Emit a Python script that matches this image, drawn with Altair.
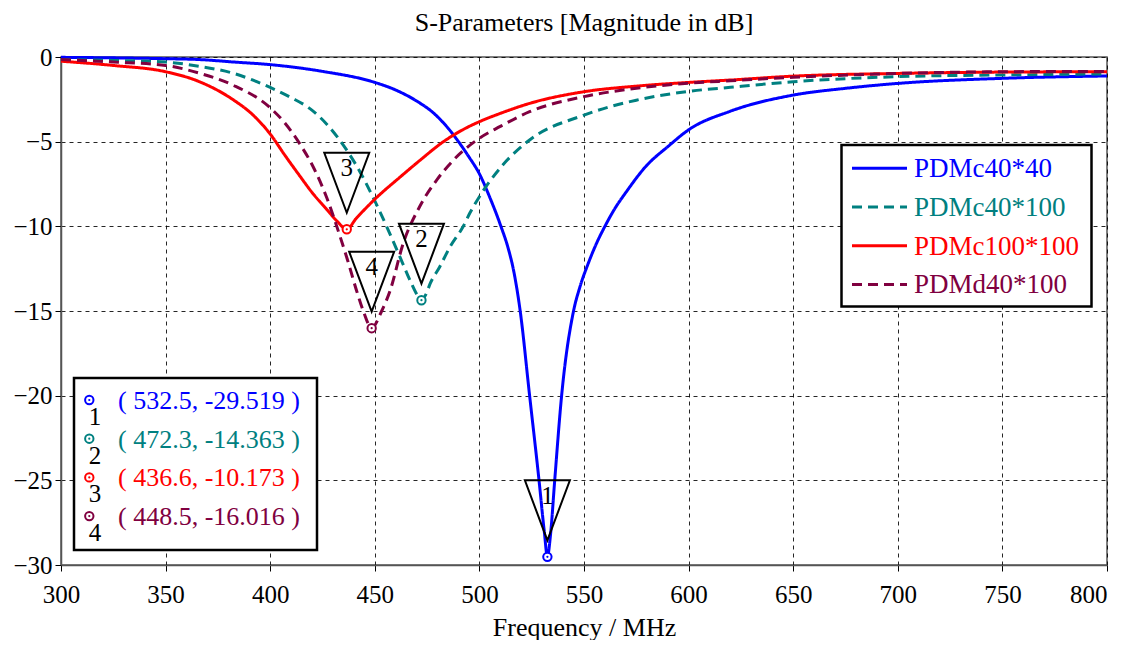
import altair as alt
import pandas as pd

# ---------------- data ----------------
series_names = ["PDMc40*40", "PDMc40*100", "PDMc100*100", "PDMd40*100"]
series_colors = ["#0000FF", "#008080", "#FF0000", "#800040"]
series_dashes = [[1, 0], [10, 6], [1, 0], [10, 6]]

blue_f = [300, 325, 350, 366, 383, 400, 425, 450, 460, 470, 478, 485, 490, 495, 500, 505, 510, 514,
          516, 519.5, 524, 528.5, 531, 532.5, 534, 536, 539.3, 545, 548, 552, 556, 560, 565, 570,
          580, 590, 600, 620, 650, 675, 700, 750, 800]
blue_db = [-0.02, -0.05, -0.1, -0.15, -0.3, -0.45, -0.85, -1.5, -1.95, -2.6, -3.3, -4.2, -5.0, -5.9,
           -6.9, -8.3, -9.9, -11.4, -12.4, -15, -20, -25, -28, -29.5, -28.2, -25, -20, -15, -13.6,
           -12.2, -11.0, -10.0, -8.9, -8.0, -6.4, -5.3, -4.3, -3.2, -2.25, -1.85, -1.56, -1.26, -1.12]

teal_f = [300, 325, 350, 366, 382, 400, 410, 419, 428, 436.6, 443, 450, 456, 462, 467.6, 470, 472.3,
          474.5, 476.4, 481, 486, 492.3, 495.5, 500, 511, 524, 550, 575, 600, 620, 650, 700, 750, 800]
teal_db = [-0.15, -0.2, -0.3, -0.55, -0.95, -1.8, -2.4, -3.05, -4.1, -5.5, -6.8, -8.5, -10.1, -11.8,
           -13.4, -14.0, -14.36, -14.0, -13.4, -12.4, -11.2, -10.0, -9.2, -8.25, -6.4, -4.9, -3.43,
           -2.55, -2.03, -1.79, -1.46, -1.16, -1.06, -1.0]

red_f = [300, 325, 350, 366, 382, 392, 400, 407, 414, 420, 427, 432, 436.6, 441, 450, 462, 471.6,
         482.8, 492, 500, 510, 524, 550, 575, 600, 620, 650, 700, 750, 800]
red_db = [-0.25, -0.5, -0.87, -1.45, -2.5, -3.45, -4.55, -5.8, -7.0, -8.0, -9.0, -9.7, -10.17, -9.55,
          -8.4, -7.1, -6.1, -5.0, -4.3, -3.82, -3.33, -2.74, -2.05, -1.72, -1.5, -1.36, -1.13, -0.97,
          -0.89, -0.87]

pur_f = [300, 325, 350, 366, 382, 400, 407, 414, 421, 427, 433.4, 437, 441.3, 444.5, 448.5, 453.3,
         457.3, 463.6, 471.6, 480, 487.5, 500, 510, 524, 550, 575, 600, 620, 650, 700, 750, 800]
pur_db = [-0.15, -0.3, -0.5, -0.95, -1.65, -3.0, -3.9, -5.1, -6.6, -8.3, -10.6, -12.0, -13.8, -15.0,
          -16.0, -15.0, -13.8, -11.0, -8.8, -7.2, -6.1, -4.8, -4.1, -3.23, -2.34, -1.85, -1.55, -1.4,
          -1.2, -0.97, -0.87, -0.85]

marker_ids = ["1", "2", "3", "4"]
marker_freq = [532.5, 472.3, 436.6, 448.5]
marker_db = [-29.519, -14.363, -10.173, -16.016]

x_ticks = list(range(300, 801, 50))
y_ticks = list(range(-30, 1, 5))

# ---------------- tables ----------------
curve_sets = [(blue_f, blue_db), (teal_f, teal_db), (red_f, red_db), (pur_f, pur_db)]
rows = []
for name, (fs, ds) in zip(series_names, curve_sets):
    for f, d in zip(fs, ds):
        rows.append({"series": name, "freq": f, "db": d})
curves = pd.DataFrame(rows)

markers = pd.DataFrame({"id": marker_ids, "freq": marker_freq, "db": marker_db,
                        "series": series_names})

FONT = "Liberation Serif"
W, H = 1046, 508

x_scale = alt.Scale(domain=[300, 800], nice=False, zero=False)
y_scale = alt.Scale(domain=[-30, 0], nice=False, zero=False)
color_scale = alt.Scale(domain=series_names, range=series_colors)
dash_scale = alt.Scale(domain=series_names, range=series_dashes)

X = alt.X("freq:Q", scale=x_scale,
          axis=alt.Axis(values=x_ticks, title="Frequency / MHz", grid=True,
                        labelFont=FONT, labelFontSize=25, titleFont=FONT, titleFontSize=26,
                        labelAlign={"condition": {"test": "datum.value == 800", "value": "right"},
                                    "value": "center"},
                        labelPadding=11, titlePadding=7))
Y = alt.Y("db:Q", scale=y_scale,
          axis=alt.Axis(values=y_ticks, title=None, grid=True, labelPadding=3,
                        labelFont=FONT, labelFontSize=25))

lines = alt.Chart(curves).mark_line(strokeWidth=3, interpolate="monotone").encode(
    x=X, y=Y,
    color=alt.Color("series:N", scale=color_scale, legend=None),
    strokeDash=alt.StrokeDash("series:N", scale=dash_scale, legend=None),
)

tri = alt.Chart(markers).mark_point(
    shape="M-0.75,-1L0.75,-1L0,1Z", size=3600, filled=False, color="black",
    strokeWidth=2, opacity=1, yOffset=-46.5
).encode(x="freq:Q", y="db:Q")

tri_text = alt.Chart(markers).mark_text(
    font=FONT, fontSize=25, color="black", baseline="middle", align="center", yOffset=-61
).encode(x="freq:Q", y="db:Q", text="id:N")

ring = alt.Chart(markers).mark_point(
    shape="circle", size=70, filled=False, fill="white", strokeWidth=2, opacity=1
).encode(x="freq:Q", y="db:Q",
         stroke=alt.Stroke("series:N", scale=color_scale, legend=None))

dot = alt.Chart(markers).mark_point(shape="circle", size=5, filled=True, opacity=1).encode(
    x="freq:Q", y="db:Q", color=alt.Color("series:N", scale=color_scale, legend=None))

one = pd.DataFrame({"k": [0]})
layers = [lines, tri, ring, dot, tri_text]

# ---- legend box (top right) ----
layers.append(alt.Chart(one).mark_rect(fill="white", stroke="black", strokeWidth=2.5).encode(
    x=alt.value(780.5), x2=alt.value(1030.5), y=alt.value(88), y2=alt.value(249.5)))
for i, (name, col, dash) in enumerate(zip(series_names, series_colors, series_dashes)):
    yy = 111.3 + i * 38.7
    layers.append(alt.Chart(one).mark_rule(color=col, strokeWidth=3, strokeDash=dash).encode(
        x=alt.value(791), x2=alt.value(846), y=alt.value(yy)))
    layers.append(alt.Chart(one).mark_text(font=FONT, fontSize=27, color=col, align="left",
                                           baseline="middle").encode(
        x=alt.value(853), y=alt.value(yy + 1), text=alt.value(name)))

# ---- marker value box (bottom left) ----
layers.append(alt.Chart(one).mark_rect(fill="white", stroke="black", strokeWidth=2.5).encode(
    x=alt.value(13), x2=alt.value(256), y=alt.value(321), y2=alt.value(493)))
for i, (mid, f, d, col) in enumerate(zip(marker_ids, marker_freq, marker_db, series_colors)):
    yy = 343 + i * 38.7
    layers.append(alt.Chart(one).mark_point(shape="circle", size=70, filled=False, color=col,
                                            strokeWidth=2, opacity=1).encode(
        x=alt.value(28.3), y=alt.value(yy)))
    layers.append(alt.Chart(one).mark_point(shape="circle", size=5, filled=True, color=col,
                                            opacity=1).encode(
        x=alt.value(28.3), y=alt.value(yy)))
    layers.append(alt.Chart(one).mark_text(font=FONT, fontSize=25, color="black",
                                           align="center", baseline="middle").encode(
        x=alt.value(34), y=alt.value(yy + 17), text=alt.value(mid)))
    layers.append(alt.Chart(one).mark_text(font=FONT, fontSize=26, color=col, align="left",
                                           baseline="middle").encode(
        x=alt.value(57), y=alt.value(yy + 1),
        text=alt.value("( %s, %.3f )" % (f, d))))

chart = alt.layer(*layers).properties(
    width=W, height=H,
    title=alt.TitleParams("S-Parameters [Magnitude in dB]", font=FONT, fontSize=26,
                          fontWeight="normal", anchor="middle", color="black", offset=9),
    autosize=alt.AutoSizeParams(type="none"),
    padding={"left": 53, "top": 49, "right": 19, "bottom": 75},
).configure_view(
    stroke="#555555", strokeWidth=1.5
).configure_axis(
    labelFont=FONT, labelFontSize=25, labelColor="black",
    titleFont=FONT, titleFontSize=26, titleColor="black", titleFontWeight="normal",
    gridColor="black", gridDash=[4, 4], gridOpacity=0.85, gridWidth=1,
    tickColor="black", tickSize=6, tickWidth=1,
    domainColor="#555555", domainWidth=1.5,
)

chart.save("out.html", embed_options={"renderer": "svg", "actions": False})
